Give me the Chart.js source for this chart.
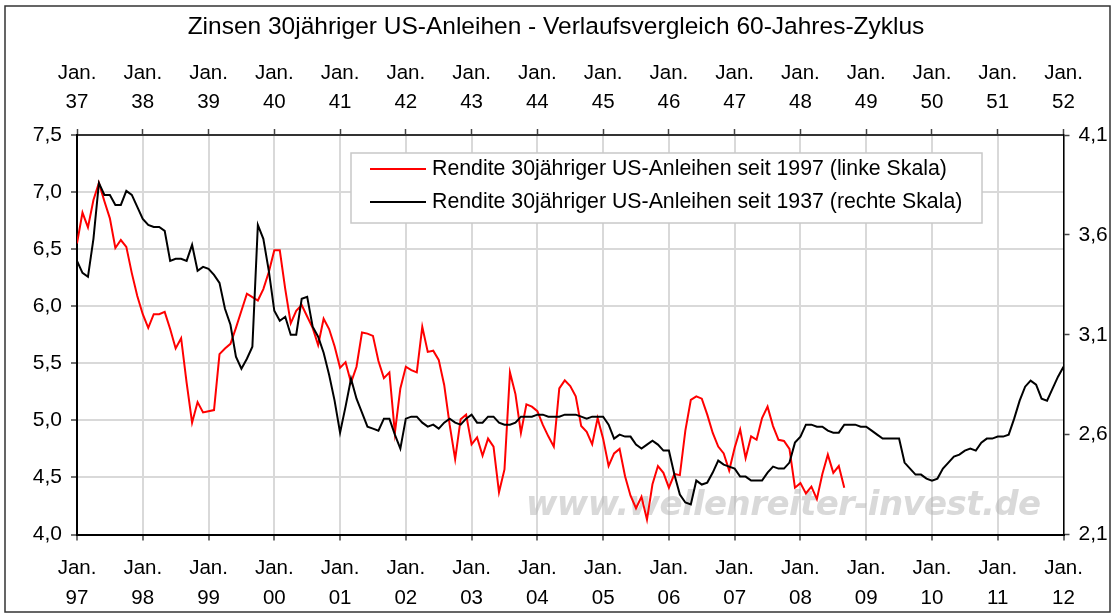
<!DOCTYPE html>
<html>
<head>
<meta charset="utf-8">
<script src="https://cdn.jsdelivr.net/npm/chart.js@4/dist/chart.umd.min.js"></script>
<style>
  html, body { margin: 0; padding: 0; background: #fff }
  canvas { display: block }
</style>
</head>
<body>
<canvas id="c" width="1112" height="615"></canvas>
<script>
const title = 'Zinsen 30jähriger US-Anleihen - Verlaufsvergleich 60-Jahres-Zyklus'
const redLabel = 'Rendite 30jähriger US-Anleihen seit 1997 (linke Skala)'
const blackLabel = 'Rendite 30jähriger US-Anleihen seit 1937 (rechte Skala)'
const watermark = 'www.wellenreiter-invest.de'

// Jahre an der unteren (1997-2012) und oberen (1937-1952) Achse
const bottomYears = ['97', '98', '99', '00', '01', '02', '03', '04', '05', '06', '07', '08', '09', '10', '11', '12']
const topYears = ['37', '38', '39', '40', '41', '42', '43', '44', '45', '46', '47', '48', '49', '50', '51', '52']
const rightTicks = [2.1, 2.6, 3.1, 3.6, 4.1]

// Monatswerte ab Jan. 1997 (linke Skala)
const redYields = [
  6.55, 6.82, 6.69, 6.93, 7.08, 6.92, 6.77, 6.51, 6.58, 6.52, 6.29, 6.09,
  5.93, 5.81, 5.93, 5.93, 5.95, 5.80, 5.63, 5.72, 5.33, 4.98, 5.16, 5.07,
  5.08, 5.09, 5.58, 5.63, 5.67, 5.81, 5.96, 6.11, 6.08, 6.05, 6.15, 6.30,
  6.49, 6.49, 6.15, 5.85, 5.96, 6.01, 5.91, 5.81, 5.66, 5.89, 5.80, 5.65,
  5.46, 5.51, 5.33, 5.47, 5.77, 5.76, 5.74, 5.52, 5.37, 5.42, 4.89, 5.28,
  5.47, 5.44, 5.42, 5.82, 5.60, 5.61, 5.53, 5.31, 4.96, 4.66, 5.01, 5.05,
  4.79, 4.85, 4.69, 4.84, 4.77, 4.37, 4.57, 5.42, 5.23, 4.89, 5.14, 5.12,
  5.08, 4.96, 4.86, 4.77, 5.28, 5.35, 5.30, 5.21, 4.95, 4.90, 4.79, 5.02,
  4.84, 4.60, 4.71, 4.75, 4.51, 4.34, 4.23, 4.33, 4.13, 4.44, 4.60, 4.54,
  4.41, 4.53, 4.52, 4.91, 5.18, 5.21, 5.19, 5.05, 4.89, 4.77, 4.71, 4.56,
  4.76, 4.92, 4.67, 4.86, 4.83, 5.02, 5.12, 4.95, 4.83, 4.82, 4.75, 4.41,
  4.45, 4.36, 4.42, 4.31, 4.53, 4.70, 4.54, 4.60, 4.41
]

// Monatswerte ab Jan. 1937 (rechte Skala)
const blackYields = [
  3.47, 3.41, 3.39, 3.58, 3.86, 3.80, 3.80, 3.75, 3.75, 3.82, 3.80, 3.74,
  3.68, 3.65, 3.64, 3.64, 3.62, 3.47, 3.48, 3.48, 3.47, 3.55, 3.42, 3.44,
  3.43, 3.40, 3.36, 3.23, 3.15, 2.99, 2.93, 2.98, 3.04, 3.65, 3.58, 3.42,
  3.22, 3.17, 3.19, 3.10, 3.10, 3.28, 3.29, 3.14, 3.09, 3.01, 2.90, 2.77,
  2.61, 2.74, 2.88, 2.78, 2.71, 2.64, 2.63, 2.62, 2.68, 2.68, 2.60, 2.53,
  2.68, 2.69, 2.69, 2.66, 2.64, 2.65, 2.63, 2.66, 2.68, 2.66, 2.65, 2.68,
  2.70, 2.66, 2.66, 2.69, 2.69, 2.66, 2.65, 2.65, 2.66, 2.69, 2.69, 2.69,
  2.70, 2.70, 2.69, 2.69, 2.69, 2.70, 2.70, 2.70, 2.69, 2.68, 2.69, 2.69,
  2.69, 2.65, 2.58, 2.60, 2.59, 2.59, 2.55, 2.53, 2.55, 2.57, 2.55, 2.52,
  2.52, 2.40, 2.30, 2.26, 2.25, 2.37, 2.35, 2.36, 2.41, 2.47, 2.45, 2.44,
  2.43, 2.39, 2.39, 2.37, 2.37, 2.37, 2.41, 2.44, 2.43, 2.43, 2.46, 2.56,
  2.59, 2.65, 2.65, 2.64, 2.64, 2.62, 2.61, 2.61, 2.65, 2.65, 2.65, 2.64,
  2.64, 2.62, 2.60, 2.58, 2.58, 2.58, 2.58, 2.46, 2.43, 2.40, 2.40, 2.38,
  2.37, 2.38, 2.43, 2.46, 2.49, 2.50, 2.52, 2.53, 2.52, 2.56, 2.58, 2.58,
  2.59, 2.59, 2.60, 2.68, 2.77, 2.84, 2.87, 2.85, 2.78, 2.77, 2.83, 2.89,
  2.94
]

const FONT = '"Liberation Sans", Arial, sans-serif'
const GRID = '#d9d9d9'
const months = (topYears.length - 1) * 12

const fmt = v => Number(v).toFixed(1).replace('.', ',')
const yearTicks = scale => {
  scale.ticks = topYears.map((y, i) => ({ value: i * 12 }))
}
const fixSize = (prop, size) => scale => { scale[prop] = size }

// weisser Hintergrund + Rahmen um das ganze Bild
const frame = {
  id: 'frame',
  beforeDraw (chart) {
    const ctx = chart.ctx
    ctx.save()
    ctx.fillStyle = '#fff'
    ctx.fillRect(0, 0, chart.width, chart.height)
    ctx.strokeStyle = '#333'
    ctx.lineWidth = 1.5
    ctx.strokeRect(5, 6, 1105, 606)
    ctx.restore()
  }
}

const stamp = {
  id: 'stamp',
  beforeDatasetsDraw (chart) {
    const ctx = chart.ctx
    ctx.save()
    ctx.font = 'italic bold 34px "DejaVu Sans", sans-serif'
    const w = ctx.measureText(watermark).width
    ctx.letterSpacing = ((515 - w) / (watermark.length - 1)).toFixed(2) + 'px'
    ctx.fillStyle = 'rgba(180,180,180,0.5)'
    ctx.textBaseline = 'middle'
    ctx.fillText(watermark, 526, 506)
    ctx.restore()
  }
}

const legendBox = {
  id: 'legendBox',
  afterDatasetsDraw (chart) {
    const ctx = chart.ctx
    ctx.save()
    ctx.fillStyle = '#fff'
    ctx.fillRect(351, 153, 631, 70)
    ctx.strokeStyle = '#c8c8c8'
    ctx.lineWidth = 1.5
    ctx.strokeRect(351, 153, 631, 70)
    ctx.font = '21.3px ' + FONT
    ctx.textBaseline = 'middle'
    chart.data.datasets.forEach((ds, i) => {
      const y = 169 + i * 33
      ctx.strokeStyle = ds.borderColor
      ctx.lineWidth = 2
      ctx.beginPath()
      ctx.moveTo(370, y)
      ctx.lineTo(426, y)
      ctx.stroke()
      ctx.fillStyle = '#000'
      ctx.fillText(ds.label, 432, y)
    })
    ctx.restore()
  }
}

new Chart(document.getElementById('c'), {
  type: 'line',
  data: {
    datasets: [
      {
        label: redLabel,
        data: redYields.map((v, i) => ({ x: i, y: v })),
        borderColor: '#ff0000',
        borderWidth: 2,
        pointRadius: 0,
        xAxisID: 'x',
        yAxisID: 'y',
        order: 1
      },
      {
        label: blackLabel,
        data: blackYields.map((v, i) => ({ x: i, y: v })),
        borderColor: '#000000',
        borderWidth: 2,
        pointRadius: 0,
        xAxisID: 'x2',
        yAxisID: 'y2',
        order: 0
      }
    ]
  },
  options: {
    responsive: false,
    animation: false,
    devicePixelRatio: 1,
    layout: { padding: 0 },
    plugins: {
      legend: { display: false },
      tooltip: { enabled: false },
      title: {
        display: true,
        text: title,
        color: '#000',
        font: { family: FONT, size: 24.5, weight: 'normal', lineHeight: 1.2 },
        padding: { top: 13, bottom: 0 }
      }
    },
    scales: {
      x: {
        type: 'linear',
        position: 'bottom',
        min: 0,
        max: months,
        afterBuildTicks: yearTicks,
        afterFit: fixSize('height', 80.5),
        ticks: {
          autoSkip: false,
          maxRotation: 0,
          padding: 12,
          color: '#000',
          font: { family: FONT, size: 20.5, lineHeight: 1.5 },
          callback: v => ['Jan.', bottomYears[v / 12]]
        },
        grid: { color: GRID, lineWidth: 2, tickColor: '#444', tickWidth: 1.5, tickLength: 6 },
        border: { color: '#000', width: 2 }
      },
      x2: {
        type: 'linear',
        position: 'top',
        min: 0,
        max: months,
        afterBuildTicks: yearTicks,
        afterFit: fixSize('height', 135 - 42.4),
        ticks: {
          autoSkip: false,
          maxRotation: 0,
          padding: 12,
          color: '#000',
          font: { family: FONT, size: 20.5, lineHeight: 1.42 },
          callback: v => ['Jan.', topYears[v / 12]]
        },
        grid: { drawOnChartArea: false, tickColor: '#444', tickWidth: 1.5, tickLength: 6 },
        border: { color: '#333', width: 2 }
      },
      y: {
        position: 'left',
        min: 4,
        max: 7.5,
        afterFit: fixSize('width', 77),
        ticks: {
          stepSize: 0.5,
          padding: 9,
          color: '#000',
          font: { family: FONT, size: 21 },
          callback: fmt
        },
        grid: { color: GRID, lineWidth: 2, tickColor: '#444', tickWidth: 1.5, tickLength: 6 },
        border: { color: '#000', width: 2 }
      },
      y2: {
        position: 'right',
        min: 2.1,
        max: 4.1,
        afterBuildTicks: scale => { scale.ticks = rightTicks.map(v => ({ value: v })) },
        afterFit: fixSize('width', 1112 - 1063.5),
        ticks: {
          padding: 9,
          color: '#000',
          font: { family: FONT, size: 21 },
          callback: fmt
        },
        grid: { drawOnChartArea: false, tickColor: '#444', tickWidth: 1.5, tickLength: 6 },
        border: { color: '#000', width: 1.5 }
      }
    }
  },
  plugins: [frame, stamp, legendBox]
})
</script>
</body>
</html>
